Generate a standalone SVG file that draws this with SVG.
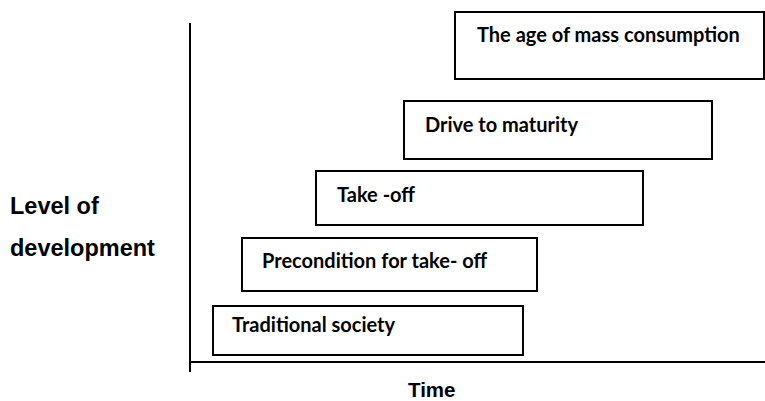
<svg xmlns="http://www.w3.org/2000/svg" width="765" height="401" viewBox="0 0 765 401">
  <style>
    .box { fill: #ffffff; stroke: #000000; stroke-width: 2; }
    .axis { stroke: #000000; stroke-width: 2; fill: none; }
    .stage { font-family: Lato, "Open Sans", sans-serif; font-weight: bold; font-size: 20px; fill: #000000; }
    .axislabel { font-family: "Liberation Sans", Arial, sans-serif; font-weight: bold; fill: #000000; }
  </style>
  <rect width="765" height="401" fill="#ffffff"/>

  <!-- axes -->
  <g id="axes">
    <line class="axis" x1="190" y1="23" x2="190" y2="372"/>
    <line class="axis" x1="190" y1="362" x2="765" y2="362"/>
  </g>

  <text class="axislabel" x="10" y="214" font-size="23.5">Level of</text>
  <text class="axislabel" x="10" y="256" font-size="23.5">development</text>
  <text class="axislabel" x="408" y="397" font-size="20.5">Time</text>

  <!-- stages of growth -->
  <g id="traditional">
    <rect class="box" x="213" y="306" width="310" height="49"/>
    <text class="stage" x="232" y="332">Traditional society</text>
  </g>
  <g id="precondition">
    <rect class="box" x="242" y="238" width="295" height="53"/>
    <text class="stage" x="262" y="268">Precondition for take- off</text>
  </g>
  <g id="takeoff">
    <rect class="box" x="316" y="171" width="327" height="54"/>
    <text class="stage" x="337" y="202">Take -off</text>
  </g>
  <g id="maturity">
    <rect class="box" x="404" y="101" width="308" height="58"/>
    <text class="stage" x="425" y="132">Drive to maturity</text>
  </g>
  <g id="consumption">
    <rect class="box" x="455" y="12" width="309" height="67"/>
    <text class="stage" x="477" y="42">The age of mass consumption</text>
  </g>
</svg>
